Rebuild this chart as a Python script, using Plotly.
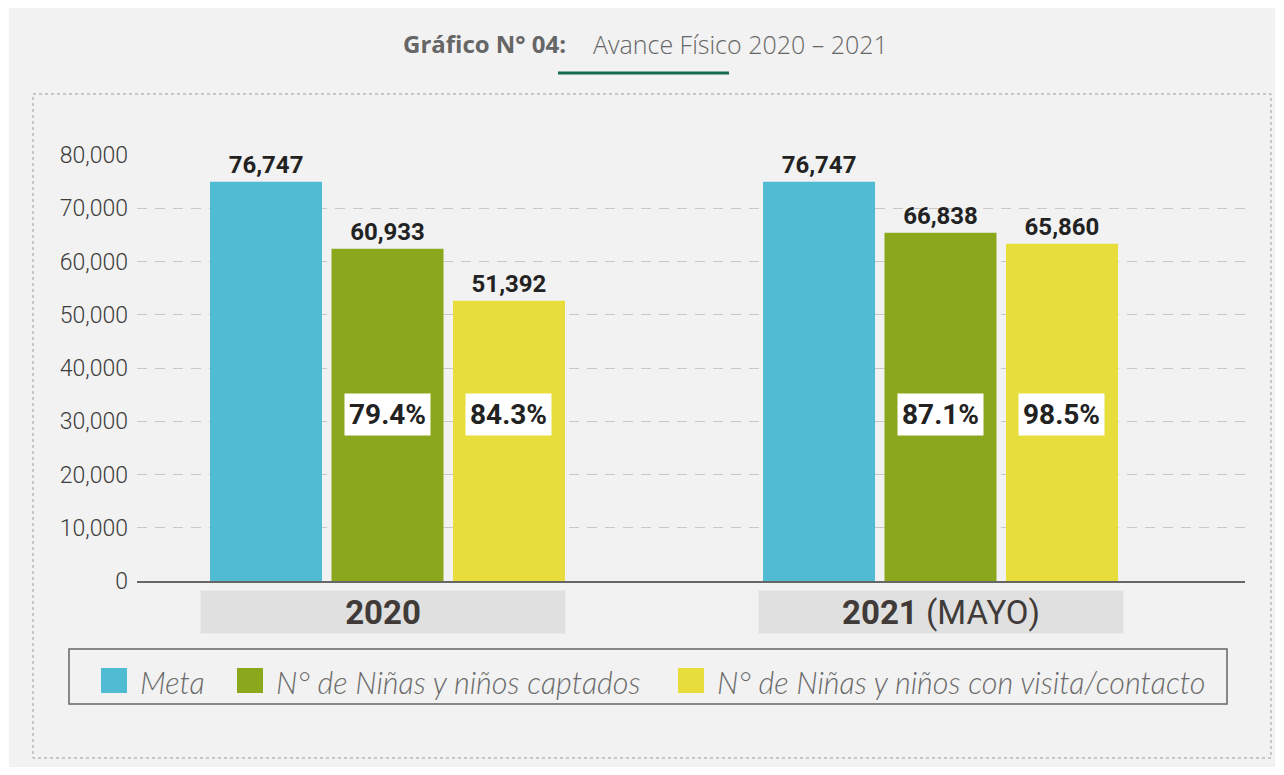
import plotly.graph_objects as go

# ---------------- data ----------------
categories = ["2020", "2021"]
category_labels = ["<b>2020</b>", "<b>2021</b> (MAYO)"]
series_names = ["Meta", "N° de Niñas y niños captados", "N° de Niñas y niños con visita/contacto"]
series_colors = ["#50bcd4", "#8ba81d", "#e7dd3b"]
# bar heights as drawn in the picture
meta_values = [75000, 75000]
captados_values = [62400, 65400]
visita_values = [52650, 63350]
# printed value labels
meta_labels = ["76,747", "76,747"]
captados_labels = ["60,933", "66,838"]
visita_labels = ["51,392", "65,860"]
# printed percentage labels
captados_pct = ["79.4%", "87.1%"]
visita_pct = ["84.3%", "98.5%"]
title_bold = "Gráfico N° 04:"
title_rest = "Avance Físico 2020 – 2021"

values = [meta_values, captados_values, visita_values]
labels = [meta_labels, captados_labels, visita_labels]
pcts = [None, captados_pct, visita_pct]

# ---------------- layout helpers ----------------
OFF = 8                      # page body margin
W, H = 1284 - OFF, 775 - OFF
PLOT_L, PLOT_R, PLOT_T, PLOT_B = 137, 1245, 155, 581   # in screen pixels
ML = PLOT_L - OFF
MT = PLOT_T - OFF
PW = PLOT_R - PLOT_L
PH = PLOT_B - PLOT_T
MR = W - ML - PW
MB = H - MT - PH


def px(x):
    return (x - PLOT_L) / PW


def py(y):
    return (PLOT_B - y) / PH


BARGAP = 0.341
BARGROUPGAP = 0.078
slot = (1 - BARGAP) / 3
UNIT = 553.0
C0 = 387.5

fig = go.Figure()
for k in range(3):
    fig.add_trace(go.Bar(
        x=list(range(len(categories))),
        y=values[k],
        name=series_names[k],
        marker=dict(color=series_colors[k], line=dict(width=0)),
        text=labels[k],
        textposition="outside",
        textangle=0,
        constraintext="none",
        cliponaxis=False,
        textfont=dict(family="Roboto", size=24, color="#222222", weight="bold"),
        showlegend=False,
        hoverinfo="skip",
    ))

shapes = []
annotations = []

# gray panel and dotted frame
shapes.append(dict(type="rect", xref="paper", yref="paper", layer="below",
                   x0=px(9), x1=px(1275), y0=py(0), y1=py(767),
                   fillcolor="#f2f2f2", line=dict(width=0)))
shapes.append(dict(type="rect", xref="paper", yref="paper", layer="below",
                   x0=px(33), x1=px(1271), y0=py(94), y1=py(758),
                   fillcolor="rgba(0,0,0,0)", line=dict(color="#9a9a9a", width=1, dash="dot")))

# title
annotations.append(dict(xref="paper", yref="paper", x=px(568), y=py(44),
                        xanchor="right", yanchor="middle", showarrow=False,
                        text="<b>" + title_bold + "</b>",
                        font=dict(family="Open Sans", size=24, color="#666666")))
annotations.append(dict(xref="paper", yref="paper", x=px(591), y=py(44),
                        xanchor="left", yanchor="middle", showarrow=False,
                        text=title_rest,
                        font=dict(family="Open Sans", size=25, color="#666666", weight=300)))
shapes.append(dict(type="line", xref="paper", yref="paper",
                   x0=px(558), x1=px(729), y0=py(73), y1=py(73),
                   line=dict(color="#146b4e", width=3)))

# category label boxes
cat_shift = [-5, 0]
for i, lab in enumerate(category_labels):
    annotations.append(dict(xref="x", yref="paper", x=i, y=py(612), xshift=cat_shift[i],
                            xanchor="center", yanchor="middle", showarrow=False,
                            text=lab, width=364, height=42, bgcolor="#e0e0e0",
                            borderpad=0, valign="middle",
                            font=dict(family="Roboto", size=33, color="#403a38")))

# percentage boxes
for k in (1, 2):
    for i, t in enumerate(pcts[k]):
        annotations.append(dict(xref="x", yref="paper", x=i + (k - 1) * slot, y=py(415),
                                xanchor="center", yanchor="middle", showarrow=False,
                                text="<b>" + t + "</b>", bgcolor="#ffffff", borderpad=4,
                                font=dict(family="Roboto", size=28, color="#222222")))

# manual legend
shapes.append(dict(type="rect", xref="paper", yref="paper",
                   x0=px(69), x1=px(1227), y0=py(649), y1=py(704),
                   fillcolor="rgba(0,0,0,0)", line=dict(color="#666666", width=1.5)))
legend_sq_x = [101, 237, 678]
legend_tx_x = [138, 274, 715]
for k in range(3):
    shapes.append(dict(type="rect", xref="paper", yref="paper",
                       x0=px(legend_sq_x[k]), x1=px(legend_sq_x[k] + 26),
                       y0=py(668), y1=py(693),
                       fillcolor=series_colors[k], line=dict(width=0)))
    annotations.append(dict(xref="paper", yref="paper", x=px(legend_tx_x[k]), y=py(682),
                            xanchor="left", yanchor="middle", showarrow=False,
                            text="<i>" + series_names[k] + "</i>",
                            font=dict(family="Lato", size=30.5, color="#6a6a6a", weight=300)))

fig.update_layout(
    width=W, height=H,
    margin=dict(l=ML, r=MR, t=MT, b=MB, pad=0),
    paper_bgcolor="#ffffff",
    plot_bgcolor="rgba(0,0,0,0)",
    barmode="group",
    bargap=BARGAP,
    bargroupgap=BARGROUPGAP,
    showlegend=False,
    shapes=shapes,
    annotations=annotations,
    xaxis=dict(range=[-(C0 - PLOT_L) / UNIT, 1 + (PLOT_R - (C0 + UNIT)) / UNIT],
               showticklabels=False, showgrid=False, zeroline=False,
               showline=True, linecolor="#666666", linewidth=1.5, ticks=""),
    yaxis=dict(range=[0, 80000], dtick=10000, tickformat=",",
               tickfont=dict(family="Roboto", size=23, color="#3c3c3c", weight=300),
               showgrid=True, gridcolor="#c8c8c8", gridwidth=1, griddash="10px,8px",
               zeroline=False, showline=False, ticks="", ticklabelstandoff=8),
)

fig.write_html("out.html")
